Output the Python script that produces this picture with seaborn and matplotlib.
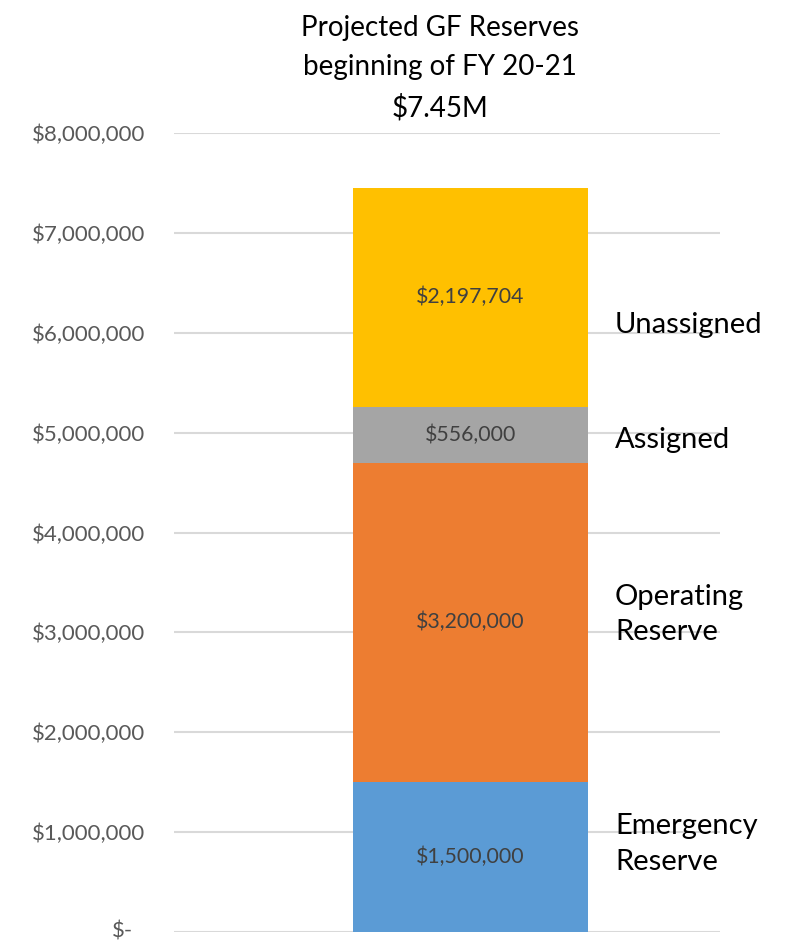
import matplotlib
matplotlib.use("Agg")
import matplotlib.pyplot as plt
import matplotlib.transforms as mtransforms
import seaborn as sns
import pandas as pd
import numpy as np

# ---- data ----
categories = ["Emergency\nReserve", "Operating\nReserve", "Assigned", "Unassigned"]
values = [1500000, 3200000, 556000, 2197704]
colors = ["#5B9BD5", "#ED7D31", "#A5A5A5", "#FFC000"]
title_lines = ["Projected GF Reserves", "beginning of FY 20-21", "$7.45M"]
yticks = [0, 1000000, 2000000, 3000000, 4000000, 5000000, 6000000, 7000000, 8000000]
ytick_labels = ["$-", "$1,000,000", "$2,000,000", "$3,000,000", "$4,000,000",
                "$5,000,000", "$6,000,000", "$7,000,000", "$8,000,000"]
# vertical placement of right-hand labels (data units)
side_label_y = [880000, 3180000, 4930000, 6080000]

sns.set_theme(style="white")
plt.rcParams["font.family"] = ["Lato", "DejaVu Sans"]

fig = plt.figure(figsize=(7.87, 9.44), dpi=100)
ax = fig.add_axes([174/787, 1 - 932/944, (720-174)/787, (932-133)/944])

cum = np.cumsum(values)
bottoms = cum - np.array(values)
# draw cumulative bars from tallest to shortest (stacked look)
for i in range(len(values) - 1, -1, -1):
    df = pd.DataFrame({"cat": ["x"], "val": [cum[i]]})
    sns.barplot(data=df, x="cat", y="val", color=colors[i], saturation=1,
                width=1.0, ax=ax, zorder=2, linewidth=0)

ax.set_xlim(-1.262, 1.062)
ax.set_ylim(0, 8000000)
ax.set_yticks(yticks)
ax.set_yticklabels(ytick_labels)
ax.set_xticks([])
ax.set_xlabel("")
ax.set_ylabel("")
for s in ax.spines.values():
    s.set_visible(False)
for y in yticks:
    ax.axhline(y, color="#D9D9D9", linewidth=1.5, zorder=1)
ax.tick_params(axis="y", length=0, pad=3, labelsize=16, labelcolor="#595959")

# move tick labels away from gridlines; "$-" further like accounting format
for k, lab in enumerate(ax.get_yticklabels()):
    dx = -0.37 if k == 0 else -0.25
    dy = 0.02 if k == 0 else 0.0
    lab.set_transform(lab.get_transform() + mtransforms.ScaledTranslation(dx, dy, fig.dpi_scale_trans))

# value labels inside segments
for v, b in zip(values, bottoms):
    ax.text(0, b + v/2, f"${v:,.0f}", ha="center", va="center",
            fontsize=15.3, color="#404040", zorder=3)

# side labels
for name, y in zip(categories, side_label_y):
    ax.text(0.615, y, name, ha="left", va="center", fontsize=21,
            color="black", linespacing=1.45, zorder=3)

fig.text(440/787, 1 - 15/944, "\n".join(title_lines), ha="center", va="top",
         fontsize=20, color="black", linespacing=1.63)

fig.savefig("out.png", dpi=100)
